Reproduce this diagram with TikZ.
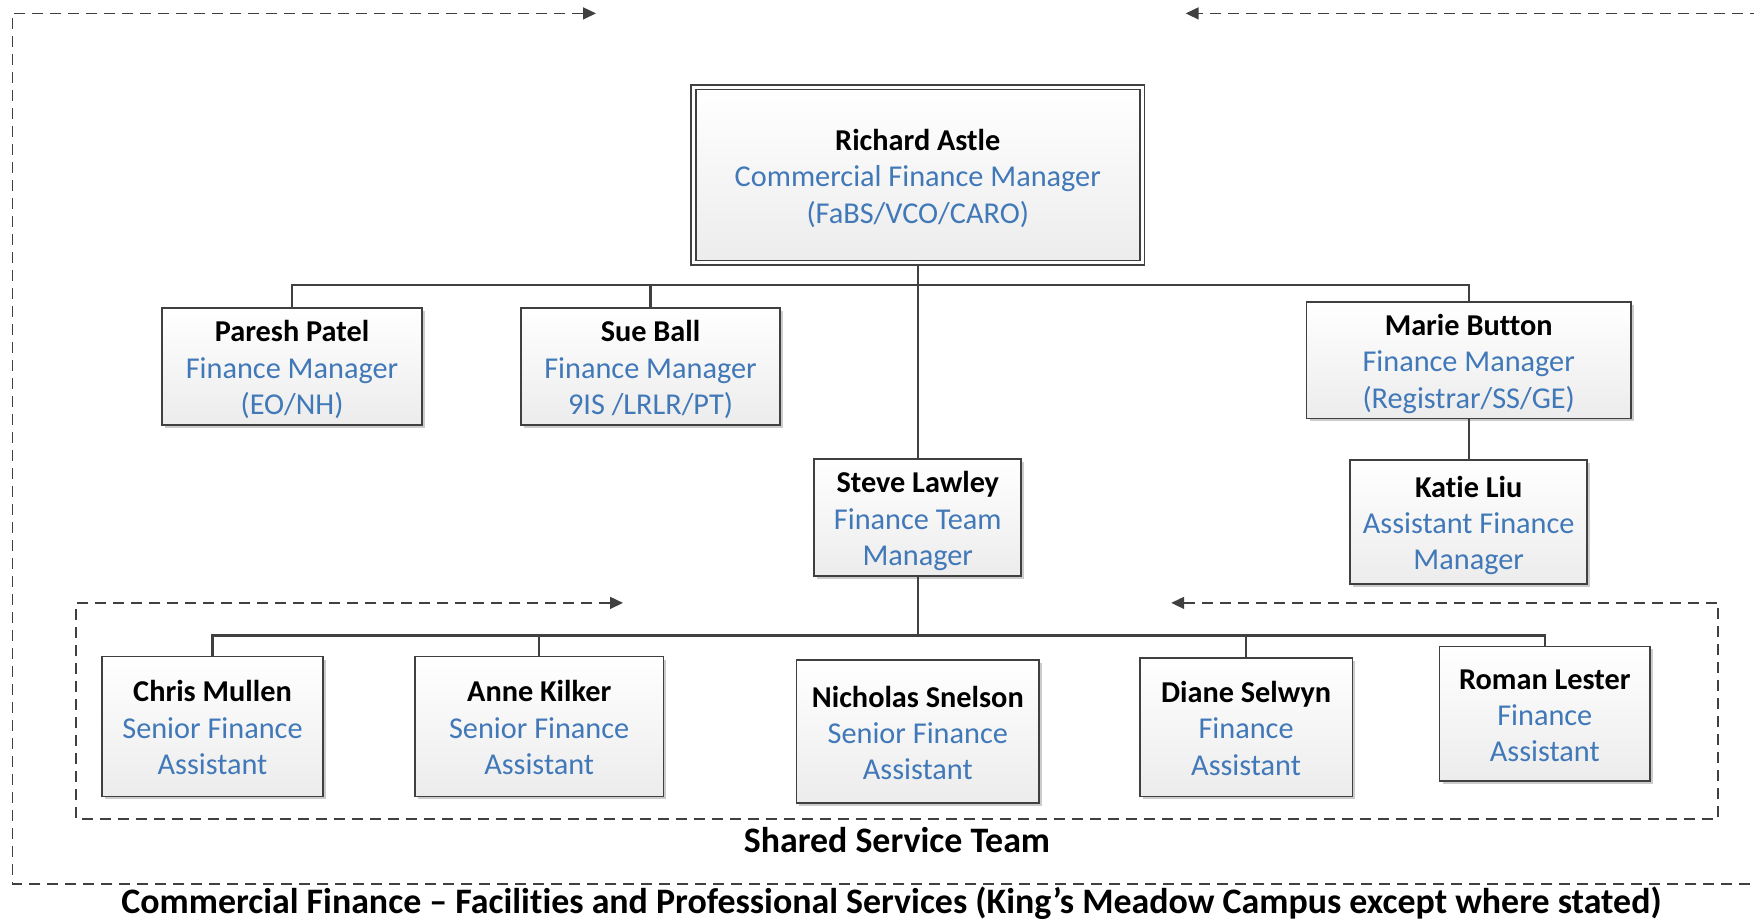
\documentclass[tikz,border=0pt]{standalone}
\usepackage{fontspec}
\setmainfont{Carlito}[Ligatures=NoCommon]
\usetikzlibrary{arrows.meta,shadows}
\definecolor{ln}{RGB}{64,64,64}
\definecolor{tb}{HTML}{4178B8}
\definecolor{bot}{RGB}{236,236,236}
\newcommand{\orgcard}[3]{\raisebox{-4.5bp}[\height][\depth]{\begin{tabular}{@{}c@{}}\textbf{#1}\\\textcolor{tb}{#2}\\\textcolor{tb}{#3}\end{tabular}}}
\begin{document}
\begin{tikzpicture}[x=1bp,y=-1bp,
  txt/.style={font=\fontsize{30.4}{36.5}\selectfont},
  box/.style={txt, draw=ln, line width=1.7bp, top color=white, bottom color=bot, inner sep=0pt,
    drop shadow={shadow xshift=3bp,shadow yshift=-3bp,fill=black,opacity=0.2}},
  conn/.style={draw=ln, line width=2.3bp},
  frame/.style={draw=ln, line width=1.6bp, dash pattern=on 11bp off 7bp,
    arrows={Triangle[length=13bp,width=12bp]-Triangle[length=13bp,width=12bp]}},
  caption/.style={font=\fontsize{36}{43}\selectfont\bfseries, align=center}
]
\useasboundingbox (0,0) rectangle (1754,922);

% frames
\draw[frame] (596,13.4) -- (12.3,13.4) -- (12.3,883.7) -- (1765,883.7) -- (1765,13.4) -- (1185.7,13.4);
\draw[frame] (623,602.9) -- (76,602.9) -- (76,818.8) -- (1718.2,818.8) -- (1718.2,602.9) -- (1171.2,602.9);

% nodes
\node[box, minimum width=448.5bp, minimum height=175.5bp, double=white, double distance=3bp] (ra) at (917.8,175)
  {\orgcard{Richard Astle}{Commercial Finance Manager}{(FaBS/VCO/CARO)}};
\node[box, minimum width=259.5bp, minimum height=117.5bp] (pp) at (292,366.4)
  {\orgcard{Paresh Patel}{Finance Manager}{(EO/NH)}};
\node[box, minimum width=258.4bp, minimum height=117.5bp] (sb) at (650.5,366.4)
  {\orgcard{Sue Ball}{Finance Manager}{9IS /LRLR/PT)}};
\node[box, minimum width=324.4bp, minimum height=116.4bp] (mb) at (1468.7,360.2)
  {\orgcard{Marie Button}{Finance Manager}{(Registrar/SS/GE)}};
\node[box, minimum width=237.2bp, minimum height=124.2bp] (kl) at (1468.7,521.8)
  {\orgcard{Katie Liu}{Assistant Finance}{Manager}};
\node[box, minimum width=207bp, minimum height=117.5bp] (sl) at (917.8,517.4)
  {\orgcard{Steve Lawley}{Finance Team}{Manager}};
\node[box, minimum width=221.5bp, minimum height=139.8bp] (cm) at (212.5,726.5)
  {\orgcard{Chris Mullen}{Senior Finance}{Assistant}};
\node[box, minimum width=248.3bp, minimum height=139.8bp] (ak) at (539.2,726.5)
  {\orgcard{Anne Kilker}{Senior Finance}{Assistant}};
\node[box, minimum width=242.8bp, minimum height=143.2bp] (ns) at (917.8,731.6)
  {\orgcard{Nicholas Snelson}{Senior Finance}{Assistant}};
\node[box, minimum width=212.6bp, minimum height=138.7bp] (ds) at (1246.1,727)
  {\orgcard{Diane Selwyn}{Finance}{Assistant}};
\node[box, minimum width=210.4bp, minimum height=134.3bp] (rl) at (1544.8,713.6)
  {\orgcard{Roman Lester}{Finance}{Assistant}};

% connectors
\coordinate (b1) at (917.8,285.2);
\coordinate (b2) at (917.8,635.4);
\draw[conn] (ra.south) -- (sl.north);
\draw[conn] (pp.north) |- (b1) -| (mb.north);
\draw[conn] (sb.north) -- (sb.north |- b1);
\draw[conn] (mb.south) -- (kl.north);
\draw[conn] (sl.south) -- (b2);
\draw[conn] (cm.north) |- (b2) -| (rl.north);
\draw[conn] (ak.north) -- (ak.north |- b2);
\draw[conn] (ds.north) -- (ds.north |- b2);

% labels
\node[caption] (sst) at (897,840) {Shared Service Team};
\node[caption] (title) at (891.5,903.5)
  {Commercial Finance – Facilities and Professional Services (King’s Meadow Campus except where stated)};
\end{tikzpicture}
\end{document}
